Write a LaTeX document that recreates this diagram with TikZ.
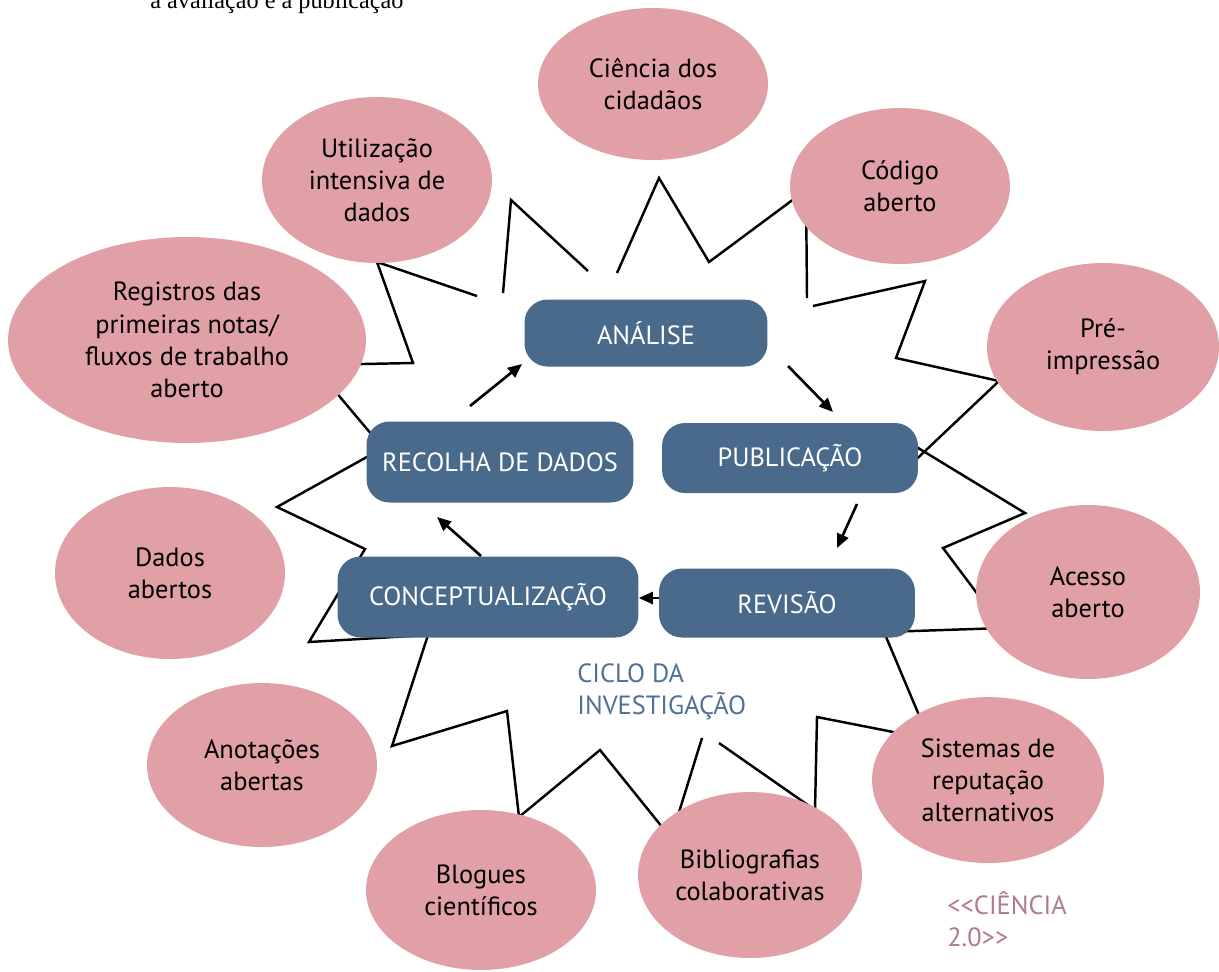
\documentclass[tikz,border=0pt]{standalone}
\usepackage{fontspec}
\setmainfont{PT Sans}
\newfontfamily\serifface{Liberation Serif}
\usetikzlibrary{shapes.geometric,arrows.meta}
\definecolor{pinkfill}{RGB}{224,160,165}
\definecolor{boxblue}{RGB}{74,106,140}
\definecolor{cyclblue}{RGB}{80,112,148}
\definecolor{mauve}{RGB}{176,122,135}
\begin{document}
\begin{tikzpicture}[x=0.02cm,y=-0.02cm,
  bub/.style={ellipse, fill=pinkfill, inner sep=0pt, align=center, text=black,
    font=\fontsize{15}{18.3}\selectfont},
  stage/.style={rectangle, rounded corners=0.46cm, fill=boxblue, text=white,
    inner sep=0pt, font=\fontsize{15}{18.3}\selectfont},
  starline/.style={line width=1.4pt, black, line join=miter},
  arr/.style={line width=1.5pt, black, -{Triangle[length=0.28cm,width=0.24cm]}},
  lbl/.style={inner sep=0pt, align=left, anchor=north west, font=\fontsize{15}{18.6}\selectfont}]
\useasboundingbox (0,0) rectangle (1219,971);

% top caption (cut off at the page edge, as in the source)
\node[inner sep=0pt, anchor=base west, font=\serifface\fontsize{13.8}{16}\selectfont] (cap) at (150,8) {a avaliação e a publicação};

% star outline (drawn first, covered by bubbles and boxes)
\draw[starline] (503,293) -- (511,200) -- (588,271);
\draw[starline] (617,273) -- (659,178) -- (709,262) -- (806,190) -- (807,298);
\draw[starline] (813,306) -- (925,281) -- (896,358) -- (999,381) -- (905,470);
\draw[starline] (905,440) -- (1025,513) -- (943,548) -- (1003,628) -- (884,632)
  -- (929,739) -- (817,717) -- (815,810) -- (719,743);
\draw[starline] (702,738) -- (671,838) -- (600,750) -- (519,817) -- (507,711)
  -- (392,746) -- (428,635) -- (309,642) -- (365,549) -- (277,507) -- (383,448)
  -- (313,365) -- (413,363) -- (377,262) -- (477,296);

% bubbles
\node[bub, minimum width=4.6cm, minimum height=3.04cm] (cid) at (653,84) {Ciência dos\\cidadãos};
\node[bub, minimum width=4.4cm, minimum height=3.12cm] (cod) at (900,186) {Código\\aberto};
\node[bub, minimum width=4.6cm, minimum height=3.32cm] (uti) at (377,180) {Utilização\\intensiva de\\dados};
\node[bub, minimum width=7.16cm, minimum height=4.12cm] (reg) at (187,340) {Registros das\\primeiras notas/\\fluxos de trabalho\\aberto};
\node[bub, minimum width=4.64cm, minimum height=3.36cm] (pre) at (1103,347) {Pré-\\impressão};
\node[bub, minimum width=4.48cm, minimum height=3.48cm] (ace) at (1088,592) {Acesso\\aberto};
\node[bub, minimum width=4.6cm, minimum height=3.44cm] (dad) at (170,573) {Dados\\abertos};
\node[bub, minimum width=4.6cm, minimum height=3.28cm] (ano) at (262,765) {Anotações\\abertas};
\node[bub, minimum width=4.6cm, minimum height=3.2cm] (blo) at (481,890) {Blogues\\científicos};
\node[bub, minimum width=4.48cm, minimum height=3.32cm] (bib) at (750,875) {Bibliografias\\colaborativas};
\node[bub, minimum width=4.64cm, minimum height=3.32cm] (sis) at (988,780) {Sistemas de\\reputação\\alternativos};

% research cycle stages
\node[stage, minimum width=4.86cm, minimum height=1.34cm] (ana) at (646,333) {ANÁLISE};
\node[stage, minimum width=5.12cm, minimum height=1.4cm] (pub) at (790,458) {PUBLICAÇÃO};
\node[stage, minimum width=5.34cm, minimum height=1.62cm] (rec) at (500,462) {RECOLHA DE DADOS};
\node[stage, minimum width=6.02cm, minimum height=1.62cm] (con) at (488,597) {CONCEPTUALIZAÇÃO};
\node[stage, minimum width=5.12cm, minimum height=1.38cm] (rev) at (787,603) {REVISÃO};

% arrow end points
\coordinate (a1s) at (470,406); \coordinate (a1e) at (522,364);
\coordinate (a2s) at (788,366); \coordinate (a2e) at (833,412);
\coordinate (a3s) at (857,504); \coordinate (a3e) at (837,548);
\coordinate (a5s) at (481,556); \coordinate (a5e) at (437,517);

\draw[arr] (a1s) -- (a1e);
\draw[arr] (a2s) -- (a2e);
\draw[arr] (a3s) -- (a3e);
\draw[arr] (rev.west |- 0,598) -- (con.east |- 0,598);
\draw[arr] (a5s) -- (a5e);

% labels
\node[lbl, text=cyclblue] (ciclo) at (577,663) {CICLO DA\\INVESTIGAÇÃO};
\node[lbl, text=mauve] (ci20) at (947,891) {<{}<CIÊNCIA\\2.0>{}>};
\end{tikzpicture}
\end{document}
